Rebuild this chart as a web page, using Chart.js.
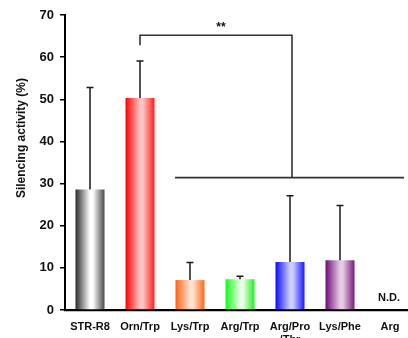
<!DOCTYPE html>
<html>
<head>
<meta charset="utf-8">
<script src="https://cdn.jsdelivr.net/npm/chart.js@4.4.0/dist/chart.umd.min.js"></script>
<style>
  html, body { margin: 0; padding: 0; background: #fff; overflow: hidden; }
  #wrap { width: 408px; height: 338px; overflow: hidden; }
</style>
</head>
<body>
<div id="wrap"><canvas id="silencingChart" width="416" height="338" style="width:416px;height:338px"></canvas></div>
<script>
// data
var labels = ['STR-R8', 'Orn/Trp', 'Lys/Trp', 'Arg/Trp', ['Arg/Pro', '/Thr'], 'Lys/Phe', 'Arg'];
var activity = [28.6, 50.3, 7.1, 7.3, 11.4, 11.8, null];
var errorUp = [24.2, 8.8, 4.2, 0.7, 15.7, 13.0, null];
var yTicks = [0, 10, 20, 30, 40, 50, 60, 70];
var yTitle = 'Silencing activity (%)';

// bar gradients: left edge, centre, right edge
var edgeColors = ['#2a2a2a', '#ff0000', '#ff6010', '#10ff10', '#0a0aff', '#700a78', '#ffffff'];
var midColors = ['#ffffff', '#ffc4c4', '#ffe2d2', '#eaffea', '#cccfff', '#e4cce4', '#ffffff'];
var rightColors = ['#4a4a4a', '#ff2020', '#ff6818', '#20f020', '#1818ff', '#781a7a', '#ffffff'];

// significance bracket (category index positions, values in %)
var bracketX = [1, 4.04];
var bracketY = [62.8, 65.2];
var groupLineX = [1.7, 6.28];
var groupLineY = 31.4;
var starPos = [2.62, 67.0];
var ndLabel = { index: 5.98, value: 2.8, text: 'N.D.' };
// y title sits a bit above the middle of the axis (value at its centre)
var yTitleValue = 40.8;

var fontFamily = "'Liberation Sans', Arial, sans-serif";
var barPct = 0.58;

function barGradient(context) {
    var chart = context.chart;
    var i = context.dataIndex;
    if (!chart.chartArea || !chart.scales.x) return edgeColors[i];
    var xs = chart.scales.x;
    var cx = xs.getPixelForValue(i);
    var half = (xs.width / labels.length) * barPct / 2;
    var g = chart.ctx.createLinearGradient(cx - half, 0, cx + half, 0);
    g.addColorStop(0, edgeColors[i]);
    g.addColorStop(0.5, midColors[i]);
    g.addColorStop(0.6, midColors[i]);
    g.addColorStop(1, rightColors[i]);
    return g;
}

var annotations = {
    id: 'annotations',
    afterDatasetsDraw: function(chart) {
        var ctx = chart.ctx;
        var xs = chart.scales.x, ys = chart.scales.y;
        ctx.save();

        // error bars (upper only)
        ctx.strokeStyle = '#1a1a1a';
        ctx.lineWidth = 1.5;
        activity.forEach(function(v, i) {
            if (v === null || errorUp[i] === null) return;
            var x = xs.getPixelForValue(i);
            var y0 = ys.getPixelForValue(v);
            var y1 = ys.getPixelForValue(v + errorUp[i]);
            ctx.beginPath();
            ctx.moveTo(x, y0);
            ctx.lineTo(x, y1);
            ctx.moveTo(x - 3.5, y1);
            ctx.lineTo(x + 3.5, y1);
            ctx.stroke();
        });

        // bracket
        ctx.strokeStyle = '#333';
        ctx.lineWidth = 1.6;
        var bx0 = xs.getPixelForValue(bracketX[0]);
        var bx1 = xs.getPixelForValue(bracketX[1]);
        var by0 = ys.getPixelForValue(bracketY[0]);
        var by1 = ys.getPixelForValue(bracketY[1]);
        var gy = ys.getPixelForValue(groupLineY);
        ctx.beginPath();
        ctx.moveTo(bx0, by0);
        ctx.lineTo(bx0, by1);
        ctx.lineTo(bx1, by1);
        ctx.lineTo(bx1, gy);
        ctx.stroke();
        ctx.beginPath();
        ctx.moveTo(xs.getPixelForValue(groupLineX[0]), gy);
        ctx.lineTo(xs.getPixelForValue(groupLineX[1]), gy);
        ctx.stroke();

        // texts
        ctx.fillStyle = '#111';
        ctx.textAlign = 'center';
        ctx.textBaseline = 'middle';
        ctx.font = 'bold 12px ' + fontFamily;
        ctx.fillText('**', xs.getPixelForValue(starPos[0]), ys.getPixelForValue(starPos[1]));
        ctx.font = 'bold 11px ' + fontFamily;
        ctx.fillText(ndLabel.text, xs.getPixelForValue(ndLabel.index), ys.getPixelForValue(ndLabel.value));

        // y axis title
        ctx.translate(22, ys.getPixelForValue(yTitleValue));
        ctx.rotate(-Math.PI / 2);
        ctx.font = 'bold 12px ' + fontFamily;
        ctx.fillText(yTitle, 0, 0);
        ctx.restore();
    }
};

var chart = new Chart(document.getElementById('silencingChart').getContext('2d'), {
    type: 'bar',
    data: {
        labels: labels,
        datasets: [{
            label: 'Silencing activity',
            data: activity,
            backgroundColor: barGradient,
            borderWidth: 0,
            barPercentage: barPct,
            categoryPercentage: 1.0
        }]
    },
    options: {
        responsive: false,
        animation: false,
        devicePixelRatio: 1,
        layout: { padding: { top: 15, right: 1, left: 0, bottom: 0 } },
        plugins: {
            legend: { display: false },
            tooltip: { enabled: false }
        },
        scales: {
            x: {
                grid: { display: false },
                border: { display: true, color: '#000', width: 2.2 },
                ticks: {
                    color: '#111',
                    font: { family: fontFamily, size: 11, weight: 'bold', lineHeight: 1.15 },
                    padding: 3,
                    maxRotation: 0,
                    autoSkip: false
                },
                afterFit: function(scale) { scale.height = 28; }
            },
            y: {
                min: 0,
                max: 70,
                afterBuildTicks: function(scale) {
                    scale.ticks = yTicks.map(function(v) { return { value: v }; });
                },
                grid: {
                    display: true,
                    drawOnChartArea: false,
                    drawTicks: true,
                    tickLength: 5,
                    color: '#000',
                    lineWidth: 1.5
                },
                border: { display: true, color: '#000', width: 2 },
                ticks: {
                    color: '#111',
                    font: { family: fontFamily, size: 13, weight: 'bold' },
                    padding: 6
                },
                afterFit: function(scale) { scale.width = 65; }
            }
        }
    },
    plugins: [annotations]
});
</script>
</body>
</html>
